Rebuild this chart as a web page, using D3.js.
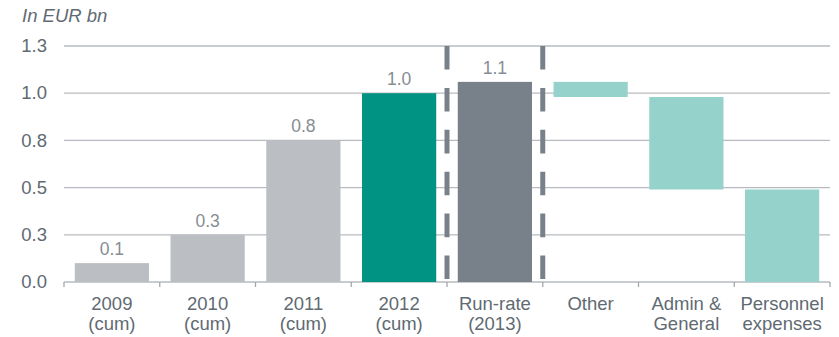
<!DOCTYPE html>
<html>
<head>
<meta charset="utf-8">
<script src="https://cdn.jsdelivr.net/npm/d3@7"></script>
<style>
  html, body { margin: 0; padding: 0; background: #fff; }
  svg { display: block; font-family: "Liberation Sans", Arial, sans-serif; }
  .axis-label { fill: #5f6a72; font-size: 18.5px; }
  .val-label { fill: #868d93; font-size: 17.5px; }
</style>
</head>
<body>
<div id="chart"></div>
<script>
/* data */
const categories = [
  ["2009", "(cum)"], ["2010", "(cum)"], ["2011", "(cum)"], ["2012", "(cum)"],
  ["Run-rate", "(2013)"], ["Other"], ["Admin &", "General"], ["Personnel", "expenses"]
];
const cumValues = [0.1, 0.25, 0.75, 1.0];      // cumulative savings
const runRate = 1.06;                            // run-rate 2013
const breakdown = [0.08, 0.49, 0.49];            // Other, Admin & General, Personnel
const yTicks = [0, 0.25, 0.5, 0.75, 1.0, 1.25];
const barKinds = ["cum", "cum", "cum", "current", "runrate", "delta", "delta", "delta"];
const kindColor = { cum: "#bbbec2", current: "#009384", runrate: "#78818a", delta: "#94d2cb" };

const W = 839, H = 337;
const m = { left: 64, right: 9, top: 46, bottom: 55 };

/* bars: start / end per category */
const bars = [];
cumValues.forEach((v, i) => bars.push({ i, y0: 0, y1: v, label: true }));
bars.push({ i: 4, y0: 0, y1: runRate, label: true });
let level = runRate;
breakdown.forEach((v, k) => { bars.push({ i: 5 + k, y0: level - v, y1: level, label: false }); level -= v; });

const svg = d3.select('#chart').append('svg').attr('width', W).attr('height', H);

const keys = categories.map((c, i) => i);
const xb = d3.scaleBand().domain(keys).range([m.left, W - m.right]);
const x = d3.scaleBand().domain(keys).range([m.left, W - m.right]).paddingInner(0.225).paddingOuter(0.1125);
const y = d3.scaleLinear().domain([0, 1.25]).range([H - m.bottom, m.top]);
const fmt = d3.format('.1f');

/* gridlines */
svg.append('g').selectAll('line').data(yTicks).join('line')
  .attr('x1', m.left).attr('x2', W - m.right)
  .attr('y1', d => y(d)).attr('y2', d => y(d))
  .attr('stroke', '#b7bbbf').attr('stroke-width', 1.3);

/* y labels */
svg.append('g').selectAll('text').data(yTicks).join('text')
  .attr('class', 'axis-label')
  .attr('x', 47).attr('y', d => y(d)).attr('dy', '0.33em')
  .attr('text-anchor', 'end').text(d => fmt(d));

/* x ticks at band boundaries */
const bounds = keys.map(k => xb(k)).concat([W - m.right]);
svg.append('g').selectAll('line').data(bounds).join('line')
  .attr('x1', d => d).attr('x2', d => d)
  .attr('y1', y(0)).attr('y2', y(0) + 5)
  .attr('stroke', '#a3a8ad').attr('stroke-width', 1.3);

/* bars */
svg.append('g').selectAll('rect').data(bars).join('rect')
  .attr('x', d => x(d.i)).attr('width', x.bandwidth())
  .attr('y', d => y(d.y1)).attr('height', d => y(d.y0) - y(d.y1))
  .attr('fill', d => kindColor[barKinds[d.i]]);

/* value labels */
svg.append('g').selectAll('text').data(bars.filter(d => d.label)).join('text')
  .attr('class', 'val-label')
  .attr('x', d => x(d.i) + x.bandwidth() / 2).attr('y', d => y(d.y1) - 8)
  .attr('text-anchor', 'middle').text(d => fmt(d.y1));

/* dashed separators around run-rate */
svg.append('g').selectAll('line').data([xb(4), xb(5)]).join('line')
  .attr('x1', d => d).attr('x2', d => d)
  .attr('y1', y(1.25)).attr('y2', y(0))
  .attr('stroke', '#78818a').attr('stroke-width', 5)
  .attr('stroke-dasharray', '23.6 18.3');

/* category labels */
const xl = svg.append('g').selectAll('text').data(categories).join('text')
  .attr('class', 'axis-label').attr('text-anchor', 'middle')
  .attr('x', (d, i) => xb(i) + xb.bandwidth() / 2).attr('y', 309.5);
xl.selectAll('tspan').data(d => d).join('tspan')
  .attr('x', function () { return d3.select(this.parentNode).attr('x'); })
  .attr('dy', (d, j) => j ? 20.5 : 0).text(d => d);

/* unit title */
svg.append('text').attr('class', 'axis-label')
  .attr('x', 22).attr('y', 21.5).style('font-style', 'italic').text('In EUR bn');
</script>
</body>
</html>
